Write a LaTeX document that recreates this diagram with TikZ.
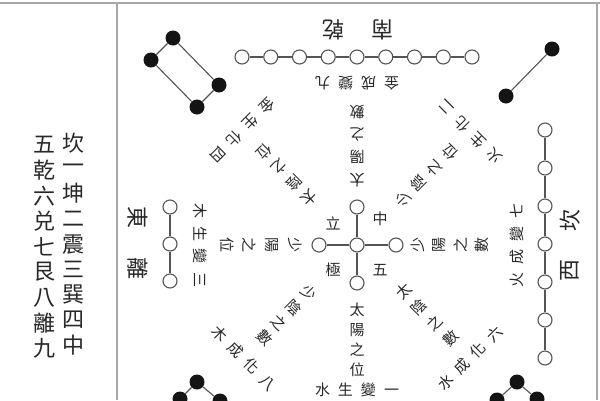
\documentclass[tikz,border=0pt]{standalone}
\usepackage{fontspec}
\newfontfamily\cjk{Noto Sans CJK TC}
\definecolor{ink}{HTML}{282828}
\definecolor{ln}{HTML}{555555}
\definecolor{frm}{HTML}{A8A8A8}
\newcommand\tgap{\kern8pt}
\begin{document}
\begin{tikzpicture}[x=1pt,y=-1pt,
  wc/.style={circle,draw=ln,fill=white,line width=1.1pt,minimum size=14pt,inner sep=0},
  bd/.style={circle,fill=black!92,minimum size=15pt,inner sep=0},
  cn/.style={line width=1.1pt,draw=ln},
  ch/.style={font=\cjk\fontsize{15}{15}\selectfont,text=ink,inner sep=0},
  tch/.style={font=\cjk\fontsize{15}{15}\selectfont,text=ink,inner sep=0},
  lab/.style={font=\cjk\fontsize{22}{22}\selectfont,text=ink,inner sep=0},
  col/.style={font=\cjk\fontsize{22}{22}\selectfont,text=ink,inner sep=0},
]
\useasboundingbox (0,0) rectangle (600,400);
\fill[white] (0,0) rectangle (600,400);
% frame
\coordinate (f1) at (0,3); \coordinate (f2) at (600,3);
\coordinate (f3) at (117,3); \coordinate (f4) at (117,400);
\coordinate (f5) at (597,3); \coordinate (f6) at (597,400);
\draw[frm,line width=1.6pt] (f1) -- (f2);
\draw[frm,line width=1.4pt] (f3) -- (f4);
\draw[frm,line width=1.4pt] (f5) -- (f6);
% left columns
\foreach \c [count=\k from 0] in {坎,一,坤,二,震,三,巽,四,中}
  \node[col] (ra\k) at (73,{143+25.3*\k}) {\c};
\foreach \c [count=\k from 0] in {五,乾,六,兑,七,艮,八,離,九}
  \node[col] (la\k) at (45,{145+25.4*\k}) {\c};
% top row
\foreach \i in {0,...,8} \node[wc] (t\i) at ({242+28.75*\i},57) {};
\foreach \i in {0,...,7}{\pgfmathtruncatemacro\j{\i+1}\draw[cn] (t\i) -- (t\j);}
% east column
\foreach \i in {0,1,2} \node[wc] (e\i) at (170,{207+37*\i}) {};
\draw[cn] (e0) -- (e1); \draw[cn] (e1) -- (e2);
% west column
\foreach \i in {0,...,6} \node[wc] (w\i) at (545,{130+38*\i}) {};
\foreach \i in {0,...,5}{\pgfmathtruncatemacro\j{\i+1}\draw[cn] (w\i) -- (w\j);}
% centre cross
\node[wc] (c0) at (357,245) {};
\node[wc] (cN) at (357,207) {};
\node[wc] (cW) at (319,245) {};
\node[wc] (cE) at (396,245) {};
\node[wc] (cS) at (357,283) {};
\foreach \n in {cN,cW,cE,cS} \draw[cn] (c0) -- (\n);
\node[ch] (z1) at (333,223) {立};
\node[ch] (z2) at (380,219) {中};
\node[ch] (z3) at (333,270) {極};
\node[ch] (z4) at (380,270) {五};
% black dots
\node[bd] (a1) at (173,38) {};
\node[bd] (a2) at (151,60) {};
\node[bd] (a3) at (197,107) {};
\node[bd] (a4) at (219,85) {};
\draw[cn] (a1) -- (a2); \draw[cn] (a2) -- (a3); \draw[cn] (a3) -- (a4); \draw[cn] (a4) -- (a1);
\node[bd] (b1) at (552,49) {};
\node[bd] (b2) at (506,96) {};
\draw[cn] (b1) -- (b2);
\node[bd] (d1) at (197,382) {};
\node[bd] (d2) at (180,399) {};
\node[bd] (d3) at (220,401) {};
\draw[cn] (d1) -- (d2); \draw[cn] (d1) -- (d3);
\node[bd] (g1) at (517,382) {};
\node[bd] (g2) at (497,400) {};
\node[bd] (g3) at (537,399) {};
\draw[cn] (g1) -- (g2); \draw[cn] (g1) -- (g3);
% direction labels
\node[lab,rotate=180] (qian) at (333,30) {乾};
\node[lab,rotate=180] (nan) at (382,30) {南};
\node[lab,rotate=-90] (dong) at (138,217) {東};
\node[lab,rotate=-90] (li) at (138,268) {離};
\node[lab,rotate=90] (kan) at (570,220) {坎};
\node[lab,rotate=90] (xi) at (570,270) {西};
% radial texts
\foreach \ang/\rad/\stp/\txt in {90/65/22.7/{太,陽,之,數},270/65/20/{太,陽,之,位},
   180/62/22.7/{少,陽,之,位},0/61/21.3/{少,陽,之,數},135/67/21.5/{太,陰,之,位},
   45/65/22/{少,陰,之,位},225/68/21/{少,陰,之,數},315/66/22/{太,陰,之,數}}{
  \foreach \c [count=\k from 0] in \txt
    \node[ch,rotate=\ang+90] (r\ang-\k) at
      ({357+(\rad+\stp*\k)*cos(\ang)},{245-(\rad+\stp*\k)*sin(\ang)}) {\c};
}
% tangential texts
\foreach \ang/\rad/\txt in {90/162/{金\tgap 成\tgap 變\tgap 九},180/157/{木\tgap 生\tgap 變\tgap 三},
   0/160/{火\tgap 成\tgap 變\tgap 七},135/162/{金\tgap 生\tgap 化\tgap 四},
   45/160/{火\tgap 生\tgap 化\tgap 二},225/160/{木\tgap 成\tgap 化\tgap 八},
   315/160/{水\tgap 成\tgap 化\tgap 六},270/145/{水\tgap 生\tgap 變\tgap 一}}
  \node[tch,rotate=\ang+90] (tg\ang) at ({357+\rad*cos(\ang)},{245-\rad*sin(\ang)}) {\txt};
\end{tikzpicture}
\end{document}
